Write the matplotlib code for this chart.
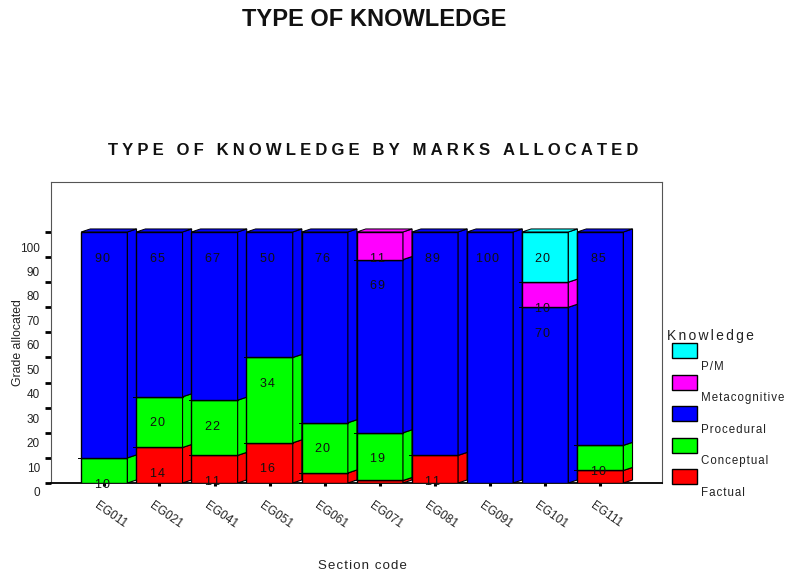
import numpy as np
from matplotlib import pyplot as plt
from matplotlib.patches import Rectangle

plt.rcParams['font.family'] = ['Liberation Sans', 'DejaVu Sans']

sections = ['EG011', 'EG021', 'EG041', 'EG051', 'EG061', 'EG071', 'EG081', 'EG091', 'EG101', 'EG111']
factual = [0, 14, 11, 16, 4, 1, 11, 0, 0, 5]
conceptual = [10, 20, 22, 34, 20, 19, 0, 0, 0, 10]
procedural = [90, 65, 67, 50, 76, 69, 89, 100, 70, 85]
metacognitive = [0, 0, 0, 0, 0, 11, 0, 0, 10, 0]
pm = [0, 0, 0, 0, 0, 0, 0, 0, 20, 0]

series = [factual, conceptual, procedural, metacognitive, pm]
names = ['Factual', 'Conceptual', 'Procedural', 'Metacognitive', 'P/M']
colors = ['#ff0000', '#00ff00', '#0000ff', '#ff00ff', '#00ffff']
yticks = list(range(0, 101, 10))

W, H = 786, 576
text_col = '#222222'


def fx(px):
    return px / W


def fy(py):
    return 1 - py / H


def spaced(s, n=1):
    # the original has letter spacing, hair spaces get close to it
    return ('\u200a' * n).join(s)


fig = plt.figure(figsize=(W / 100, H / 100), dpi=100)
ax = fig.add_axes([fx(51), fy(483), fx(662 - 51), (483 - 182) / H])
ax.set_xlim(-0.967, 10.12)
ax.set_ylim(0, 119.9)

width = 0.84
depth = 0.165
rise = 1.2

data = np.array(series, dtype=float)
totals = data.sum(axis=0)
pct = data / totals * 100

for i in range(len(sections)):
    left = i - width / 2
    right = i + width / 2
    bottom = 0
    for k in range(len(series)):
        h = pct[k][i]
        if h == 0:
            continue
        top = bottom + h
        ax.bar(i, h, width=width, bottom=bottom, color=colors[k], edgecolor='black', linewidth=1, zorder=3 + i)
        # side face
        ax.fill([right, right + depth, right + depth, right],
                [bottom, bottom + rise, top + rise, top],
                facecolor=colors[k], edgecolor='black', linewidth=0.8, zorder=3 + i)
        # little stub at the left of each boundary
        if top < 99:
            ax.plot([left - 0.05, left], [top, top], color='black', linewidth=0.7, zorder=3 + i)
        if top > 99:
            ax.fill([left, left + depth, right + depth, right],
                    [top, top + rise, top + rise, top],
                    facecolor=colors[k], edgecolor='black', linewidth=0.7, zorder=3 + i)
        bottom = top

# value labels sit 10 units under the top of their segment
for i in range(len(sections)):
    bottom = 0
    for k in range(len(series)):
        top = bottom + pct[k][i]
        if series[k][i] >= 10:
            ax.text(i - 0.04, top - 10.6, spaced(str(series[k][i])), ha='center', va='center',
                    fontsize=9, color='#111111', zorder=30)
        bottom = top

for s in ['top', 'right', 'left']:
    ax.spines[s].set_color('#555555')
    ax.spines[s].set_linewidth(0.8)
ax.spines['bottom'].set_color('black')
ax.spines['bottom'].set_linewidth(1.3)

ax.set_yticks(yticks)
ax.set_yticklabels([])
ax.tick_params(axis='y', length=4.5, width=2, color='black')
ax.set_xticks(range(len(sections)))
ax.set_xticklabels([])
ax.tick_params(axis='x', length=2.5, width=2.2, color='black')

for v in yticks:
    fig.text(fx(40), fy(493 - v * 2.445), str(v), ha='right', va='center', fontsize=8.5, color=text_col)

for i, s in enumerate(sections):
    xc = ax.transData.transform((i, 0))[0]
    fig.text(fx(xc + 6), fy(515), s, rotation=-35, rotation_mode='anchor', ha='center', va='center',
             fontsize=8.5, color=text_col)

fig.text(fx(374.5), fy(20), 'TYPE OF KNOWLEDGE', ha='center', va='center', fontsize=17, fontweight='bold', color='#111111')
fig.text(fx(373), fy(150), spaced('TYPE OF KNOWLEDGE BY MARKS ALLOCATED', 3), ha='center', va='center',
         fontsize=12, fontweight='bold', color='#111111')
fig.text(fx(362.5), fy(566), spaced('Section code', 1), ha='center', va='center', fontsize=9.5, color=text_col)
fig.text(fx(18), fy(343), 'Grade allocated', rotation=90, ha='center', va='center', fontsize=8.8, color=text_col)

# legend, P/M first
fig.text(fx(667), fy(336), spaced('Knowledge', 2), ha='left', va='center', fontsize=10, color=text_col)
legend_top = [343, 374.5, 406, 438, 469]
legend_text = [367, 398, 430, 461, 493]
for n, k in enumerate(reversed(range(len(names)))):
    fig.add_artist(Rectangle((fx(672), fy(legend_top[n] + 15)), 25 / W, 15 / H, transform=fig.transFigure,
                             facecolor=colors[k], edgecolor='black', linewidth=1))
    fig.text(fx(701), fy(legend_text[n]), spaced(names[k]), ha='left', va='center', fontsize=8.3, color=text_col)

fig.savefig('out.png', dpi=100)
